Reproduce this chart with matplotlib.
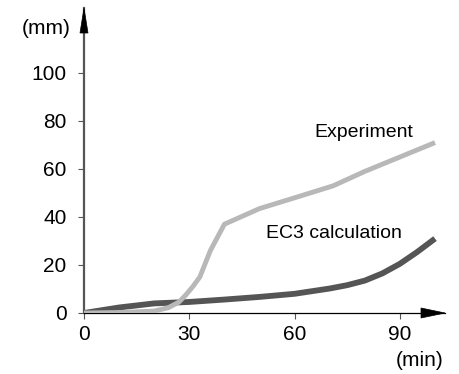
import matplotlib
matplotlib.use("Agg")
import matplotlib.pyplot as plt
from matplotlib.patches import Polygon

# Data
exp_t = [0, 10, 20, 24, 27, 29, 31, 33, 36, 40, 50, 60, 71, 80, 90, 100]
exp_v = [0, 0.2, 0.8, 2.2, 4.5, 7.5, 11, 15, 26, 37, 43.5, 48, 53, 59, 65, 71]
ec3_t = [0, 10, 20, 30, 40, 50, 60, 70, 75, 80, 85, 90, 95, 100]
ec3_v = [0, 2.3, 4.0, 4.6, 5.6, 6.7, 8.0, 10.2, 11.6, 13.5, 16.5, 20.5, 25.5, 31]
xticks = [0, 30, 60, 90]
yticks = [0, 20, 40, 60, 80, 100]

plt.rcParams['font.family'] = ['Liberation Sans', 'DejaVu Sans']

W, H = 460, 374
fig = plt.figure(figsize=(W / 100, H / 100), dpi=100)
ax = fig.add_axes([84 / W, 1 - 313 / H, (445 - 84) / W, (313 - 8) / H])
ax.set_xlim(0, (445 - 84) / 3.51)
ax.set_ylim(0, (313 - 8) / 2.4)

ax.plot(ec3_t, ec3_v, color='#555555', lw=4.2, solid_capstyle='butt', zorder=3)
ax.plot(exp_t, exp_v, color='#b8b8b8', lw=3.5, solid_capstyle='butt', zorder=4)

for s in ['top', 'right']:
    ax.spines[s].set_visible(False)
ax.spines['left'].set_color('#555555')
ax.spines['left'].set_linewidth(1.6)
ax.spines['bottom'].set_color('black')
ax.spines['bottom'].set_linewidth(0.9)
ax.spines['left'].set_zorder(2)

ax.set_xticks(xticks)
ax.set_yticks(yticks)
ax.tick_params(axis='both', labelsize=15, length=4.5, width=0.8, color='#555555')
ax.tick_params(axis='y', pad=8)
ax.tick_params(axis='x', pad=4)


def arrow(tip_axes, verts_px):
    base = ax.transAxes.transform(tip_axes)
    pts = [(base[0] + vx, base[1] + vy) for vx, vy in verts_px]
    p = Polygon(pts, closed=True, facecolor='black', edgecolor='black', lw=0.5,
                transform=None, clip_on=False, zorder=6)
    fig.add_artist(p)


arrow((1, 0), [(0, 0), (-24, 5), (-24, -5)])
arrow((0, 1), [(0, 0), (-4, -25), (4, -25)])

ax.text(0.637, 0.593, 'Experiment', transform=ax.transAxes, fontsize=14,
        va='center', ha='left')
ax.text(0.505, 0.262, 'EC3 calculation', transform=ax.transAxes, fontsize=14,
        va='center', ha='left')
fig.text(46 / W, 1 - 28 / H, '(mm)', fontsize=15, ha='center', va='center')
fig.text(420 / W, 1 - 360 / H, '(min)', fontsize=15, ha='center', va='center')

fig.savefig('out.png', dpi=100)
